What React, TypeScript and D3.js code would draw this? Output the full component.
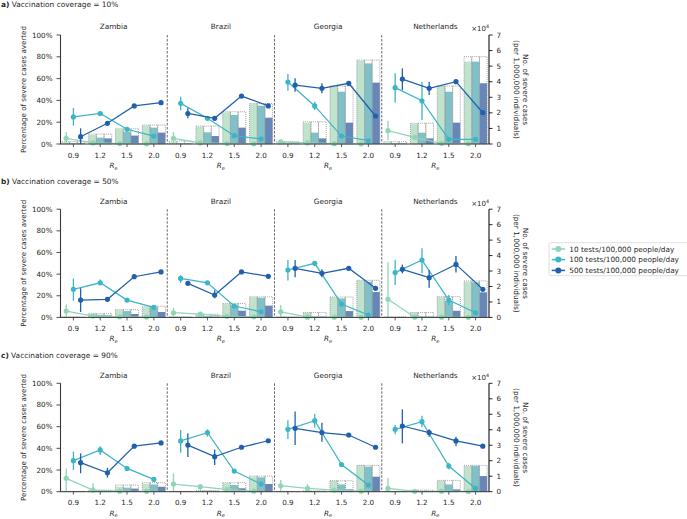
import React from "react";
import * as d3 from "d3";

// ---------- categories & labels ----------
const countries = ["Zambia", "Brazil", "Georgia", "Netherlands"];
const reValues = ["0.9", "1.2", "1.5", "2.0"];
const coverageLabels = ["10%", "50%", "90%"];
const panelLetters = ["a)", "b)", "c)"];
const seriesNames = [
  "10 tests/100,000 people/day",
  "100 tests/100,000 people/day",
  "500 tests/100,000 people/day",
];
const pctTicks = [0, 20, 40, 60, 80, 100];
const caseTicks = [0, 1, 2, 3, 4, 5, 6, 7];

// ---------- row a: coverage 10% (percentage averted, per country x Re) ----------
const pctA10 = [[5.2, 1.0, 0.4, 0.2], [5.2, 1.0, 0.4, 0.2], [2.0, 1.0, 0.3, 0.2], [12.2, 6.1, 0.6, 0.3]];
const loA10 = [[0, 0.3, 0.1, 0], [0, 0.3, 0.1, 0], [0.5, 0.3, 0, 0], [3.7, 4.5, 0.2, 0]];
const hiA10 = [[11, 2, 0.8, 0.5], [11, 2, 0.8, 0.5], [3.5, 1.8, 0.6, 0.4], [21.4, 7.8, 1.0, 0.6]];
const pctA100 = [[24.8, 28, 13.5, 7.3], [37.3, 23.6, 7.6, 4.6], [56.9, 34.9, 7.3, 3], [51.7, 39.7, 4.3, 4.3]];
const loA100 = [[16.8, 26.5, 12.3, 6.3], [31, 22.6, 6.8, 4], [48.9, 31.2, 6.5, 2.5], [37.9, 22, 3.7, 3.8]];
const hiA100 = [[33, 29.5, 14.7, 8.3], [43.4, 24.6, 8.4, 5.2], [64.2, 38.8, 8.1, 3.5], [64.9, 57.2, 4.9, 4.8]];
const pctA500 = [[6.7, 19, 34.9, 37.9], [28, 23.6, 44, 34.9], [54.1, 51.1, 55.7, 25.7], [59.6, 51.1, 57.2, 28.7]];
const loA500 = [[0, 17.6, 33.9, 37], [23.6, 21.3, 43, 34], [48, 46.5, 54.6, 24.6], [49.5, 45, 56.2, 27.6]];
const hiA500 = [[14.4, 20.4, 35.9, 38.8], [32.7, 25.8, 45, 35.8], [60.3, 55.7, 56.8, 26.8], [69.4, 57.2, 58.2, 29.8]];
// severe cases (x10^4 per 1,000,000)
const baseA = [[0.15, 0.64, 0.98, 1.22], [0.19, 1.15, 2.07, 2.6], [0.15, 1.43, 3.72, 5.39], [0.15, 1.33, 3.72, 5.61]];
const casesA10 = [[0.1, 0.58, 0.94, 1.18], [0.12, 1.11, 2.03, 2.57], [0.1, 1.37, 3.68, 5.35], [0.1, 1.28, 3.72, 5.29]];
const casesA100 = [[0.04, 0.41, 0.79, 1.05], [0.05, 0.75, 1.86, 2.46], [0.04, 0.73, 3.36, 5.18], [0.04, 0.73, 3.36, 5.29]];
const casesA500 = [[0.03, 0.36, 0.54, 0.73], [0.03, 0.51, 1.05, 1.69], [0.03, 0.36, 1.37, 3.94], [0.03, 0.36, 1.37, 3.9]];

// ---------- row b: coverage 50% ----------
const pctB10 = [[5.9, 1.2, 0.5, 0.3], [4.3, 3, 1, 0.5], [5.2, 0.2, 0.2, 0.1], [16.7, 0.2, 0.2, 0.1]];
const loB10 = [[0, 0.5, 0.1, 0], [0, 2, 0.5, 0.1], [0, 0, 0, 0], [0, 0, 0, 0]];
const hiB10 = [[12, 2, 0.9, 0.6], [9, 4, 1.5, 0.9], [11.4, 0.5, 0.4, 0.3], [51, 0.5, 0.4, 0.3]];
const pctB100 = [[26, 32, 16, 9.3], [36, 32, 10.5, 5.2], [43.8, 50, 12.3, 2.2], [41.4, 53, 16, 4.3]];
const loB100 = [[15.4, 30, 15, 8.5], [32, 31, 9.5, 4.5], [34, 49, 10, 1.7], [30, 40.7, 11.4, 3.8]];
const hiB100 = [[36, 35, 17, 10], [39, 33, 11.5, 6], [53, 51, 14.5, 2.7], [53, 64, 20.7, 4.8]];
const pctB500 = [[16, 16.7, 37.6, 42], [31.5, 20.7, 42, 38], [45.4, 40.7, 45.4, 26.9], [44.4, 36.7, 49, 26]];
const loB500 = [[5, 16, 36.5, 41], [30.5, 17.6, 41, 37], [37, 37, 44.4, 26], [40.7, 27.5, 41.4, 25]];
const hiB500 = [[27, 17.5, 38.7, 43], [32.5, 25, 43, 39], [53, 44.4, 46.4, 27.8], [48.8, 43.8, 56.8, 27]];
const baseB = [[0.03, 0.26, 0.5, 0.72], [0.03, 0.2, 0.9, 1.33], [0.03, 0.32, 1.32, 2.4], [0.03, 0.32, 1.34, 2.36]];
const casesB10 = [[0.02, 0.22, 0.47, 0.66], [0.02, 0.15, 0.86, 1.3], [0.02, 0.3, 1.3, 2.38], [0.02, 0.3, 1.3, 2.31]];
const casesB100 = [[0.01, 0.17, 0.41, 0.62], [0.01, 0.08, 0.8, 1.27], [0.01, 0.06, 1.23, 2.31], [0.01, 0.06, 1.06, 2.27]];
const casesB500 = [[0.01, 0.13, 0.22, 0.35], [0.01, 0.05, 0.43, 0.76], [0.01, 0.05, 0.41, 1.64], [0.01, 0.05, 0.43, 1.62]];

// ---------- row c: coverage 90% ----------
const pctC10 = [[12.3, 1.5, 0.5, 0.3], [7, 4.6, 2, 0.5], [5.5, 3, 1.5, 0.5], [3, 0.3, 0.3, 0.2]];
const loC10 = [[0, 0, 0.1, 0], [0, 1.5, 1, 0.1], [0, 0, 0.8, 0.1], [0, 0, 0, 0]];
const hiC10 = [[21.5, 7.7, 0.9, 0.6], [17, 7, 3, 0.9], [10.8, 7, 2.2, 0.9], [12.3, 0.6, 0.6, 0.4]];
const pctC100 = [[28.6, 38.5, 21.5, 11.4], [46.8, 54.5, 19, 7], [57.5, 65.5, 25, 6.2], [57.5, 64.6, 23.7, 3]];
const loC100 = [[20, 33.8, 19.4, 9.2], [36, 50.8, 17.5, 6], [48.6, 59, 24, 5.5], [53, 59.4, 20.6, 2.5]];
const hiC100 = [[37, 42, 23.6, 13.5], [57, 57.5, 20.5, 8], [66, 72, 26, 7], [61.5, 70, 26.8, 3.5]];
const pctC500 = [[26.8, 17.5, 42, 45], [43, 32.3, 41, 47], [58.5, 54.5, 52.3, 41], [60.6, 54.5, 46.8, 42]];
const loC500 = [[17, 13, 41, 43.5], [32, 24.6, 40, 46], [43, 46, 51.3, 40], [44.6, 50.8, 42, 41]];
const hiC500 = [[35.4, 22, 43, 46.5], [54, 39, 42, 48], [74, 63.7, 53.3, 42], [76, 57.5, 50.8, 43]];
const baseC = [[0.02, 0.1, 0.43, 0.58], [0.02, 0.08, 0.58, 1.01], [0.02, 0.05, 0.71, 1.7], [0.02, 0.1, 0.73, 1.7]];
const casesC10 = [[0.01, 0.07, 0.32, 0.5], [0.01, 0.05, 0.54, 0.97], [0.01, 0.03, 0.71, 1.7], [0.01, 0.08, 0.71, 1.66]];
const casesC100 = [[0.01, 0.04, 0.26, 0.47], [0.01, 0.02, 0.43, 0.93], [0.01, 0.02, 0.47, 1.62], [0.01, 0.03, 0.47, 1.66]];
const casesC500 = [[0, 0.02, 0.2, 0.32], [0, 0.01, 0.22, 0.5], [0, 0.01, 0.15, 0.97], [0, 0.02, 0.15, 1.01]];

const rowsData = [
  { pct: [pctA10, pctA100, pctA500], lo: [loA10, loA100, loA500], hi: [hiA10, hiA100, hiA500], base: baseA, cases: [casesA10, casesA100, casesA500] },
  { pct: [pctB10, pctB100, pctB500], lo: [loB10, loB100, loB500], hi: [hiB10, hiB100, hiB500], base: baseB, cases: [casesB10, casesB100, casesB500] },
  { pct: [pctC10, pctC100, pctC500], lo: [loC10, loC100, loC500], hi: [hiC10, hiC100, hiC500], base: baseC, cases: [casesC10, casesC100, casesC500] },
];

// ---------- styling / layout ----------
const W = 687;
const H = 519;
const FONT = "DejaVu Sans";
const TXT = "#262626";
const lineColors = ["#8fd6b6", "#3cb5c7", "#2260ad"];
const barColors = ["#bfe3cd", "#7fc0c9", "#6687b8"];
const rowTops = [35, 209.2, 383.3];
const rowBottoms = [144, 317.4, 491.7];
const titleBaselines = [7.0, 183.7, 358.4];
const plotLeft = 60;
const plotRight = 489;

const xPanel = d3.scaleBand<string>().domain(countries).range([plotLeft, plotRight]).paddingInner(0).paddingOuter(0);
const panelW = xPanel.bandwidth();
const xRe = d3.scaleBand<string>().domain(reValues).range([0, panelW]).padding(0);
const band = xRe.bandwidth();
const groupHalf = band * 0.43;
const xBar = d3.scaleBand<number>().domain([0, 1, 2]).range([-groupHalf, groupHalf]).padding(0);
const xPt = d3.scalePoint<number>().domain([0, 1, 2]).range([-7.2, 7.2]);

function Row({ r }: { r: number }) {
  const top = rowTops[r];
  const bottom = rowBottoms[r];
  const data = rowsData[r];
  const yP = d3.scaleLinear().domain([0, 100]).range([bottom, top]);
  const yC = d3.scaleLinear().domain([0, 7]).range([bottom, top]);
  const line = d3.line<[number, number]>().x((d) => d[0]).y((d) => d[1]);
  const midY = (top + bottom) / 2;

  return (
    <g>
      {/* row title */}
      <text x={1} y={titleBaselines[r]} fontSize={7.4} fontFamily={FONT} fill={TXT}>
        <tspan fontWeight="bold">{panelLetters[r]}</tspan>
        <tspan> Vaccination coverage = {coverageLabels[r]}</tspan>
      </text>

      {countries.map((c, ci) => {
        const x0 = xPanel(c)!;
        const cx = (re: string) => x0 + xRe(re)! + band / 2;
        return (
          <g key={c}>
            <text x={x0 + panelW / 2} y={top - 5.6} textAnchor="middle" fontSize={7.3} fontFamily={FONT} fill={TXT}>
              {c}
            </text>
            {/* bars */}
            {reValues.map((re, ri) => (
              <g key={re}>
                {[0, 1, 2].map((s) => {
                  const v = data.cases[s][ci][ri];
                  const bx = cx(re) + xBar(s)!;
                  return (
                    <rect key={"b" + s} x={bx} y={yC(v)} width={xBar.bandwidth()} height={bottom - yC(v)} fill={barColors[s]} />
                  );
                })}
                {[0, 1, 2].map((s) => {
                  const v = data.base[ci][ri];
                  const bx = cx(re) + xBar(s)!;
                  return (
                    <rect key={"o" + s} x={bx} y={yC(v)} width={xBar.bandwidth()} height={bottom - yC(v)} fill="none" stroke="#9a9a9a" strokeWidth={0.9} strokeDasharray="1,1" />
                  );
                })}
              </g>
            ))}
            {/* lines */}
            {[0, 1, 2].map((s) => {
              const pts: [number, number][] = reValues.map((re, ri) => [cx(re) + xPt(s)!, yP(data.pct[s][ci][ri])]);
              return (
                <g key={"l" + s}>
                  <path d={line(pts)!} fill="none" stroke={lineColors[s]} strokeWidth={1.25} />
                  {reValues.map((re, ri) => (
                    <line key={"e" + ri} x1={pts[ri][0]} x2={pts[ri][0]} y1={yP(data.lo[s][ci][ri])} y2={yP(data.hi[s][ci][ri])} stroke={lineColors[s]} strokeWidth={1.3} />
                  ))}
                  {pts.map((p, i) => (
                    <circle key={"c" + i} cx={p[0]} cy={p[1]} r={2.6} fill={lineColors[s]} />
                  ))}
                </g>
              );
            })}
            {/* x ticks */}
            {reValues.map((re) => (
              <g key={"t" + re}>
                <line x1={cx(re)} x2={cx(re)} y1={bottom} y2={bottom + 3} stroke="#333" strokeWidth={0.8} />
                <text x={cx(re)} y={bottom + 13.5} textAnchor="middle" fontSize={7.2} fontFamily={FONT} fill={TXT}>
                  {re}
                </text>
              </g>
            ))}
            <text x={x0 + panelW / 2} y={bottom + 24} textAnchor="middle" fontSize={7.2} fontFamily={FONT} fill={TXT}>
              <tspan fontStyle="italic">R</tspan>
              <tspan fontStyle="italic" fontSize={5} dy={1.6}>e</tspan>
            </text>
            {ci > 0 && (
              <line x1={x0} x2={x0} y1={top} y2={bottom} stroke="#444" strokeWidth={0.8} strokeDasharray="2.5,1.5" />
            )}
          </g>
        );
      })}

      {/* bottom axis line */}
      <line x1={plotLeft} x2={plotRight} y1={bottom} y2={bottom} stroke="#3a3a3a" strokeWidth={1} />

      {/* left axis */}
      <line x1={plotLeft + 0.5} x2={plotLeft + 0.5} y1={top} y2={bottom} stroke="#3a3a3a" strokeWidth={1.1} />
      {pctTicks.map((t) => (
        <g key={"yl" + t}>
          <line x1={plotLeft + 0.5} x2={plotLeft - 3.5} y1={yP(t)} y2={yP(t)} stroke="#3a3a3a" strokeWidth={0.9} />
          <text x={plotLeft - 7.5} y={yP(t)} dominantBaseline="central" textAnchor="end" fontSize={7.2} fontFamily={FONT} fill={TXT}>
            {t}%
          </text>
        </g>
      ))}
      <text transform={`translate(23,${midY}) rotate(-90)`} textAnchor="middle" dominantBaseline="central" fontSize={7.1} fontFamily={FONT} fill={TXT}>
        Percentage of severe cases averted
      </text>

      {/* right axis */}
      <line x1={plotRight} x2={plotRight} y1={top} y2={bottom} stroke="#111" strokeWidth={1.1} />
      {caseTicks.map((t) => (
        <g key={"yr" + t}>
          <line x1={plotRight} x2={plotRight + 3.5} y1={yC(t)} y2={yC(t)} stroke="#111" strokeWidth={0.9} />
          <text x={plotRight + 7.5} y={yC(t)} dominantBaseline="central" fontSize={7.2} fontFamily={FONT} fill={TXT}>
            {t}
          </text>
        </g>
      ))}
      <text x={plotRight} y={top - 3.6} textAnchor="end" fontSize={7} fontFamily={FONT} fill={TXT}>
        ×10<tspan fontSize={4.8} dy={-3}>4</tspan>
      </text>
      <text transform={`translate(525,${midY}) rotate(90)`} textAnchor="middle" dominantBaseline="central" fontSize={7.3} fontFamily={FONT} fill={TXT}>
        No. of severe cases
      </text>
      <text transform={`translate(516.7,${midY}) rotate(90)`} textAnchor="middle" dominantBaseline="central" fontSize={7.3} fontFamily={FONT} fill={TXT}>
        (per 1,000,000 individuals)
      </text>
    </g>
  );
}

function Legend() {
  const ys = [249, 259.6, 270.4];
  return (
    <g>
      <rect x={549} y={242.7} width={145} height={33} rx={2} fill="#fff" stroke="#d6d6d6" strokeWidth={0.8} />
      {seriesNames.map((n, i) => (
        <g key={n}>
          <line x1={551.7} x2={565} y1={ys[i]} y2={ys[i]} stroke={lineColors[i]} strokeWidth={1.5} />
          <circle cx={558.3} cy={ys[i]} r={3} fill={lineColors[i]} />
          <text x={569.3} y={ys[i]} dominantBaseline="central" fontSize={7.3} fontFamily={FONT} fill={TXT}>
            {n}
          </text>
        </g>
      ))}
    </g>
  );
}

export default function App() {
  return (
    <svg width={W} height={H} viewBox={`0 0 ${W} ${H}`} style={{ position: "absolute", left: 0, top: 0, background: "#fff" }}>
      <rect x={0} y={0} width={W} height={H} fill="#fff" />
      {[0, 1, 2].map((r) => (
        <Row key={r} r={r} />
      ))}
      <Legend />
    </svg>
  );
}
